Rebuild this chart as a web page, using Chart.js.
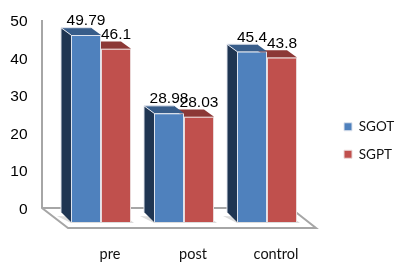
<!DOCTYPE html>
<html>
<head>
<meta charset="utf-8">
<style>
html,body{margin:0;padding:0;background:#fff}
canvas{display:block}
</style>
<script src="https://cdn.jsdelivr.net/npm/chart.js@4"></script>
</head>
<body>
<canvas id="c" width="400" height="271"></canvas>
<script>
var categories = ['pre', 'post', 'control'];
var sgot = [49.79, 28.98, 45.4];
var sgpt = [46.1, 28.03, 43.8];
var yTicks = [0, 10, 20, 30, 40, 50];

var depthX = 10, depthTop = 7.3, depthBottom = 10;

function poly(ctx, pts, fill) {
	ctx.beginPath();
	ctx.moveTo(pts[0][0], pts[0][1]);
	for (var i = 1; i < pts.length; i++) ctx.lineTo(pts[i][0], pts[i][1]);
	ctx.closePath();
	ctx.fillStyle = fill;
	ctx.fill();
}

// the box: back wall and floor, then side and top faces of the bars
var box3d = {
	id: 'box3d',
	afterLayout: function(chart) {
		var l = chart.legend;
		l.left = 330; l.right = 400; l.top = 106; l.bottom = 230;
		l.adjustHitBoxes();
	},
	beforeDatasetsDraw: function(chart) {
		var ctx = chart.ctx, floorY = chart.scales.y.getPixelForValue(0);
		var a = chart.chartArea;
		var backY = floorY - 14;
		ctx.save();
		ctx.strokeStyle = '#a6a6a6';
		ctx.lineWidth = 2;
		ctx.beginPath();
		ctx.moveTo(a.left - 17.5, 20);
		ctx.lineTo(a.left - 17.5, backY);
		ctx.lineTo(a.left + 8.5, floorY + 6);
		ctx.lineTo(a.right + 7.5, floorY + 6);
		ctx.lineTo(a.right - 18, backY);
		ctx.lineTo(a.left - 17.5, backY);
		ctx.stroke();

		chart.getDatasetMeta(0).data.forEach(function(b) {
			var l = b.x - b.width / 2, r = b.x + b.width * 1.5;
			poly(ctx, [[l - depthX - 4, floorY - 6], [l, floorY + 1], [r + 3, floorY + 1], [r - 2, floorY - 3]], '#dcdcdc');
		});
		[1, 0].forEach(function(ds) {
			chart.getDatasetMeta(ds).data.forEach(function(b) {
				var l = b.x - b.width / 2, r = b.x + b.width / 2;
				var topCol = ds === 0 ? '#385d8a' : '#8c3836';
				poly(ctx, [[l, b.y], [l - depthX, b.y - depthTop], [r - depthX, b.y - depthTop], [r, b.y]], topCol);
				if (ds === 0) {
					poly(ctx, [[l, b.y], [l - depthX, b.y - depthTop], [l - depthX, floorY - depthBottom], [l, floorY]], '#1f3552');
					ctx.strokeStyle = '#e3e6ee';
					ctx.lineWidth = 1;
					ctx.beginPath();
					ctx.moveTo(l, b.y);
					ctx.lineTo(l - depthX, b.y - depthTop);
					ctx.lineTo(r - depthX, b.y - depthTop);
					ctx.moveTo(l - depthX, b.y - depthTop);
					ctx.lineTo(l - depthX, floorY - depthBottom);
					ctx.stroke();
				}
			});
		});
		ctx.restore();
	},
	afterDatasetsDraw: function(chart) {
		var ctx = chart.ctx;
		ctx.save();
		ctx.font = '15.5px "Liberation Sans"';
		ctx.fillStyle = '#000';
		ctx.textAlign = 'center';
		ctx.textBaseline = 'middle';
		// red labels go first so the blue ones sit over them, as in the picture
		[1, 0].forEach(function(ds) {
			var vals = chart.data.datasets[ds].data;
			chart.getDatasetMeta(ds).data.forEach(function(b, i) {
				ctx.fillText(vals[i], b.x, b.y - 14);
			});
		});
		ctx.restore();
	}
};

new Chart(document.getElementById('c'), {
	type: 'bar',
	data: {
		labels: categories,
		datasets: [
			{ label: 'SGOT', data: sgot, backgroundColor: '#4f81bd', borderColor: '#dfe4ee', borderWidth: 1 },
			{ label: 'SGPT', data: sgpt, backgroundColor: '#c0504d', borderColor: '#ead9d9', borderWidth: 1 }
		]
	},
	options: {
		responsive: false,
		animation: false,
		categoryPercentage: 0.723,
		barPercentage: 1,
		layout: { padding: { top: 34.2, right: 91.5 } },
		plugins: {
			tooltip: { enabled: false },
			legend: {
				position: 'chartArea',
				align: 'start',
				labels: {
					boxWidth: 8,
					boxHeight: 8,
					padding: 14,
					color: '#111',
					font: { family: 'Lato', size: 13.5 }
				}
			}
		},
		scales: {
			x: {
				grid: { display: false },
				border: { display: false },
				afterFit: function(s) { s.height = 49; },
				ticks: { color: '#111', padding: 16, labelOffset: 9, maxRotation: 0, font: { family: 'Lato', size: 14.5 } }
			},
			y: {
				min: 0,
				max: 50,
				grid: { display: false, drawTicks: false },
				border: { display: false },
				// tick padding would otherwise count as top margin too
				afterFit: function(s) { s.width = 59.5; s.paddingTop = 0; s.paddingBottom = 0; },
				afterBuildTicks: function(s) { s.ticks = yTicks.map(function(v) { return { value: v }; }); },
				ticks: { color: '#000', padding: 32, labelOffset: -12.5, font: { family: 'Liberation Sans', size: 15.5 } }
			}
		}
	},
	plugins: [box3d]
});
</script>
</body>
</html>
